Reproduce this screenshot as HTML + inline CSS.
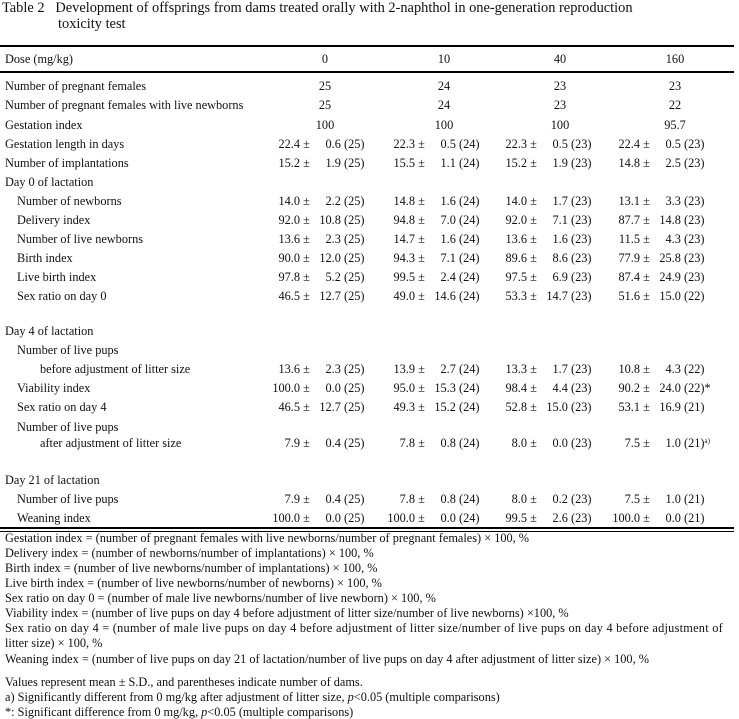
<!DOCTYPE html>
<html><head><meta charset="utf-8"><style>
body{margin:0;width:739px;height:719px;background:#fff;position:relative;font-family:"Liberation Serif","DejaVu Serif",serif;color:#111;overflow:hidden}
.t{position:absolute;white-space:nowrap;font-size:12.3px;line-height:14px}
.c{position:absolute;white-space:nowrap;font-size:12.3px;line-height:14px;transform:translateX(-50%)}
.ln{position:absolute;left:0;width:734px;background:#000}
.v{position:absolute;white-space:nowrap;font-size:12.3px;line-height:14px}
.v .m{display:inline-block;width:30px;text-align:right}
.v .s{display:inline-block;width:28px;text-align:right}
sup{font-size:7px;line-height:0;vertical-align:4px}
</style></head><body>
<div class="t" style="left:2px;top:1px;font-size:14.4px">Table 2&nbsp;&nbsp; Development of offsprings from dams treated orally with 2-naphthol in one-generation reproduction</div>
<div class="t" style="left:58px;top:17px;font-size:14.4px">toxicity test</div>
<div class="ln" style="top:45px;height:2px"></div>
<div class="ln" style="top:71px;height:2px"></div>
<div class="ln" style="top:527px;height:2px"></div>
<div class="ln" style="top:531px;height:1px"></div>
<div class="t" style="left:5px;top:52px">Dose (mg/kg)</div>
<div class="c" style="left:325px;top:52px">0</div>
<div class="c" style="left:444px;top:52px">10</div>
<div class="c" style="left:560px;top:52px">40</div>
<div class="c" style="left:675px;top:52px">160</div>

<div class="t" style="left:5px;top:79px">Number of pregnant females</div>
<div class="t" style="left:5px;top:98px">Number of pregnant females with live newborns</div>
<div class="t" style="left:5px;top:118px">Gestation index</div>
<div class="c" style="left:325px;top:79px">25</div><div class="c" style="left:444px;top:79px">24</div><div class="c" style="left:560px;top:79px">23</div><div class="c" style="left:675px;top:79px">23</div>
<div class="c" style="left:325px;top:98px">25</div><div class="c" style="left:444px;top:98px">24</div><div class="c" style="left:560px;top:98px">23</div><div class="c" style="left:675px;top:98px">22</div>
<div class="c" style="left:325px;top:118px">100</div><div class="c" style="left:444px;top:118px">100</div><div class="c" style="left:560px;top:118px">100</div><div class="c" style="left:675px;top:118px">95.7</div>

<div class="t" style="left:5px;top:137px">Gestation length in days</div>
<div class="t" style="left:5px;top:156px">Number of implantations</div>
<div class="t" style="left:5px;top:175px">Day 0 of lactation</div>
<div class="t" style="left:17px;top:194px">Number of newborns</div>
<div class="t" style="left:17px;top:213px">Delivery index</div>
<div class="t" style="left:17px;top:232px">Number of live newborns</div>
<div class="t" style="left:17px;top:251px">Birth index</div>
<div class="t" style="left:17px;top:270px">Live birth index</div>
<div class="t" style="left:17px;top:289px">Sex ratio on day 0</div>
<div class="t" style="left:5px;top:324px">Day 4 of lactation</div>
<div class="t" style="left:17px;top:343px">Number of live pups</div>
<div class="t" style="left:40px;top:362px">before adjustment of litter size</div>
<div class="t" style="left:17px;top:381px">Viability index</div>
<div class="t" style="left:17px;top:400px">Sex ratio on day 4</div>
<div class="t" style="left:17px;top:420px">Number of live pups</div>
<div class="t" style="left:40px;top:436px">after adjustment of litter size</div>
<div class="t" style="left:5px;top:473px">Day 21 of lactation</div>
<div class="t" style="left:17px;top:492px">Number of live pups</div>
<div class="t" style="left:17px;top:511px">Weaning index</div>

<div class="v" style="left:270px;top:137px"><span class="m">22.4</span> ± <span class="s">0.6</span> (25)</div>
<div class="v" style="left:385px;top:137px"><span class="m">22.3</span> ± <span class="s">0.5</span> (24)</div>
<div class="v" style="left:497px;top:137px"><span class="m">22.3</span> ± <span class="s">0.5</span> (23)</div>
<div class="v" style="left:610px;top:137px"><span class="m">22.4</span> ± <span class="s">0.5</span> (23)</div>

<div class="v" style="left:270px;top:156px"><span class="m">15.2</span> ± <span class="s">1.9</span> (25)</div>
<div class="v" style="left:385px;top:156px"><span class="m">15.5</span> ± <span class="s">1.1</span> (24)</div>
<div class="v" style="left:497px;top:156px"><span class="m">15.2</span> ± <span class="s">1.9</span> (23)</div>
<div class="v" style="left:610px;top:156px"><span class="m">14.8</span> ± <span class="s">2.5</span> (23)</div>

<div class="v" style="left:270px;top:194px"><span class="m">14.0</span> ± <span class="s">2.2</span> (25)</div>
<div class="v" style="left:385px;top:194px"><span class="m">14.8</span> ± <span class="s">1.6</span> (24)</div>
<div class="v" style="left:497px;top:194px"><span class="m">14.0</span> ± <span class="s">1.7</span> (23)</div>
<div class="v" style="left:610px;top:194px"><span class="m">13.1</span> ± <span class="s">3.3</span> (23)</div>

<div class="v" style="left:270px;top:213px"><span class="m">92.0</span> ± <span class="s">10.8</span> (25)</div>
<div class="v" style="left:385px;top:213px"><span class="m">94.8</span> ± <span class="s">7.0</span> (24)</div>
<div class="v" style="left:497px;top:213px"><span class="m">92.0</span> ± <span class="s">7.1</span> (23)</div>
<div class="v" style="left:610px;top:213px"><span class="m">87.7</span> ± <span class="s">14.8</span> (23)</div>

<div class="v" style="left:270px;top:232px"><span class="m">13.6</span> ± <span class="s">2.3</span> (25)</div>
<div class="v" style="left:385px;top:232px"><span class="m">14.7</span> ± <span class="s">1.6</span> (24)</div>
<div class="v" style="left:497px;top:232px"><span class="m">13.6</span> ± <span class="s">1.6</span> (23)</div>
<div class="v" style="left:610px;top:232px"><span class="m">11.5</span> ± <span class="s">4.3</span> (23)</div>

<div class="v" style="left:270px;top:251px"><span class="m">90.0</span> ± <span class="s">12.0</span> (25)</div>
<div class="v" style="left:385px;top:251px"><span class="m">94.3</span> ± <span class="s">7.1</span> (24)</div>
<div class="v" style="left:497px;top:251px"><span class="m">89.6</span> ± <span class="s">8.6</span> (23)</div>
<div class="v" style="left:610px;top:251px"><span class="m">77.9</span> ± <span class="s">25.8</span> (23)</div>

<div class="v" style="left:270px;top:270px"><span class="m">97.8</span> ± <span class="s">5.2</span> (25)</div>
<div class="v" style="left:385px;top:270px"><span class="m">99.5</span> ± <span class="s">2.4</span> (24)</div>
<div class="v" style="left:497px;top:270px"><span class="m">97.5</span> ± <span class="s">6.9</span> (23)</div>
<div class="v" style="left:610px;top:270px"><span class="m">87.4</span> ± <span class="s">24.9</span> (23)</div>

<div class="v" style="left:270px;top:289px"><span class="m">46.5</span> ± <span class="s">12.7</span> (25)</div>
<div class="v" style="left:385px;top:289px"><span class="m">49.0</span> ± <span class="s">14.6</span> (24)</div>
<div class="v" style="left:497px;top:289px"><span class="m">53.3</span> ± <span class="s">14.7</span> (23)</div>
<div class="v" style="left:610px;top:289px"><span class="m">51.6</span> ± <span class="s">15.0</span> (22)</div>

<div class="v" style="left:270px;top:362px"><span class="m">13.6</span> ± <span class="s">2.3</span> (25)</div>
<div class="v" style="left:385px;top:362px"><span class="m">13.9</span> ± <span class="s">2.7</span> (24)</div>
<div class="v" style="left:497px;top:362px"><span class="m">13.3</span> ± <span class="s">1.7</span> (23)</div>
<div class="v" style="left:610px;top:362px"><span class="m">10.8</span> ± <span class="s">4.3</span> (22)</div>

<div class="v" style="left:270px;top:381px"><span class="m">100.0</span> ± <span class="s">0.0</span> (25)</div>
<div class="v" style="left:385px;top:381px"><span class="m">95.0</span> ± <span class="s">15.3</span> (24)</div>
<div class="v" style="left:497px;top:381px"><span class="m">98.4</span> ± <span class="s">4.4</span> (23)</div>
<div class="v" style="left:610px;top:381px"><span class="m">90.2</span> ± <span class="s">24.0</span> (22)*</div>

<div class="v" style="left:270px;top:400px"><span class="m">46.5</span> ± <span class="s">12.7</span> (25)</div>
<div class="v" style="left:385px;top:400px"><span class="m">49.3</span> ± <span class="s">15.2</span> (24)</div>
<div class="v" style="left:497px;top:400px"><span class="m">52.8</span> ± <span class="s">15.0</span> (23)</div>
<div class="v" style="left:610px;top:400px"><span class="m">53.1</span> ± <span class="s">16.9</span> (21)</div>

<div class="v" style="left:270px;top:436px"><span class="m">7.9</span> ± <span class="s">0.4</span> (25)</div>
<div class="v" style="left:385px;top:436px"><span class="m">7.8</span> ± <span class="s">0.8</span> (24)</div>
<div class="v" style="left:497px;top:436px"><span class="m">8.0</span> ± <span class="s">0.0</span> (23)</div>
<div class="v" style="left:610px;top:436px"><span class="m">7.5</span> ± <span class="s">1.0</span> (21)<sup>a)</sup></div>

<div class="v" style="left:270px;top:492px"><span class="m">7.9</span> ± <span class="s">0.4</span> (25)</div>
<div class="v" style="left:385px;top:492px"><span class="m">7.8</span> ± <span class="s">0.8</span> (24)</div>
<div class="v" style="left:497px;top:492px"><span class="m">8.0</span> ± <span class="s">0.2</span> (23)</div>
<div class="v" style="left:610px;top:492px"><span class="m">7.5</span> ± <span class="s">1.0</span> (21)</div>

<div class="v" style="left:270px;top:511px"><span class="m">100.0</span> ± <span class="s">0.0</span> (25)</div>
<div class="v" style="left:385px;top:511px"><span class="m">100.0</span> ± <span class="s">0.0</span> (24)</div>
<div class="v" style="left:497px;top:511px"><span class="m">99.5</span> ± <span class="s">2.6</span> (23)</div>
<div class="v" style="left:610px;top:511px"><span class="m">100.0</span> ± <span class="s">0.0</span> (21)</div>

<div class="t" style="left:5px;top:531px">Gestation index = (number of pregnant females with live newborns/number of pregnant females) × 100, %</div>
<div class="t" style="left:5px;top:546px">Delivery index = (number of newborns/number of implantations) × 100, %</div>
<div class="t" style="left:5px;top:561px">Birth index = (number of live newborns/number of implantations) × 100, %</div>
<div class="t" style="left:5px;top:576px">Live birth index = (number of live newborns/number of newborns) × 100, %</div>
<div class="t" style="left:5px;top:591px">Sex ratio on day 0 = (number of male live newborns/number of live newborn) × 100, %</div>
<div class="t" style="left:5px;top:606px">Viability index = (number of live pups on day 4 before adjustment of litter size/number of live newborns) ×100, %</div>
<div class="t" style="left:5px;top:621px;letter-spacing:0.25px">Sex ratio on day 4 = (number of male live pups on day 4 before adjustment of litter size/number of live pups on day 4 before adjustment of</div>
<div class="t" style="left:5px;top:636px">litter size) × 100, %</div>
<div class="t" style="left:5px;top:652px">Weaning index = (number of live pups on day 21 of lactation/number of live pups on day 4 after adjustment of litter size) × 100, %</div>
<div class="t" style="left:5px;top:675px">Values represent mean ± S.D., and parentheses indicate number of dams.</div>
<div class="t" style="left:5px;top:690px">a) Significantly different from 0 mg/kg after adjustment of litter size, <i>p</i>&lt;0.05 (multiple comparisons)</div>
<div class="t" style="left:5px;top:705px">*: Significant difference from 0 mg/kg, <i>p</i>&lt;0.05 (multiple comparisons)</div>
</body></html>
